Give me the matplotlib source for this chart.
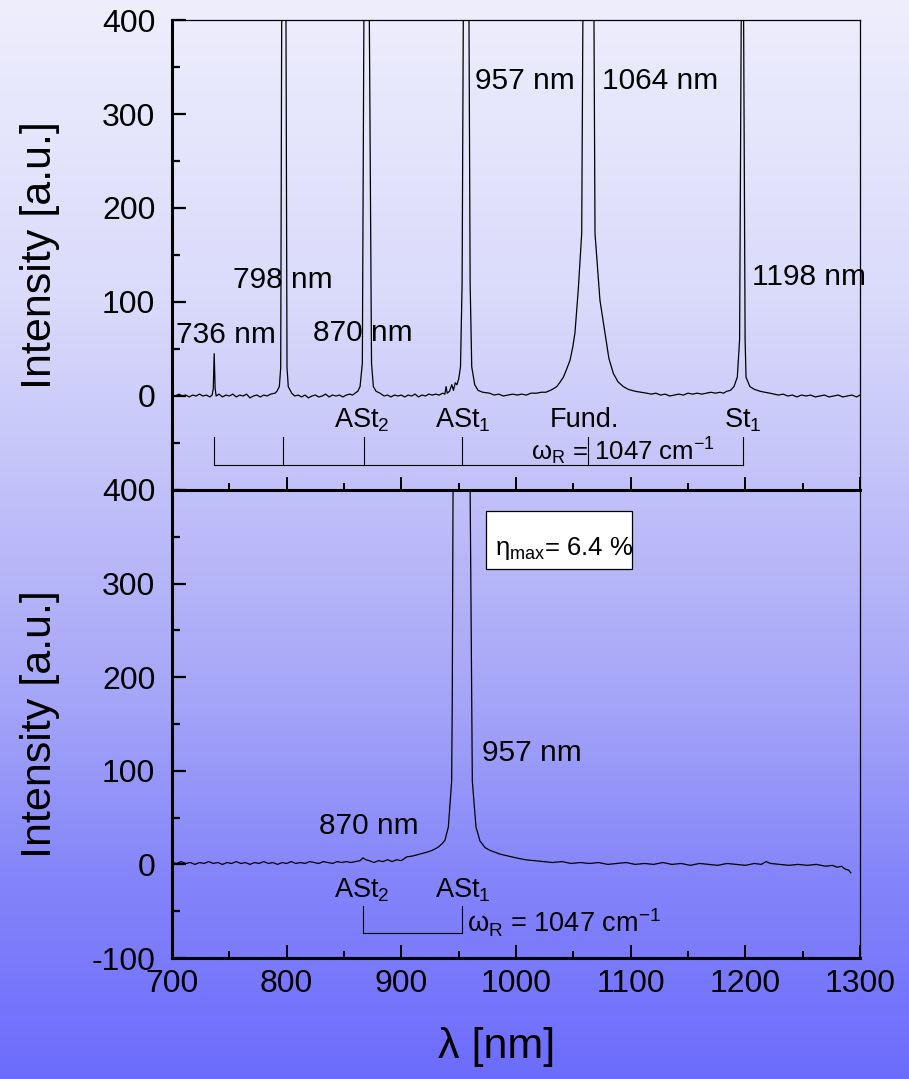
import numpy as np
import matplotlib
matplotlib.use('Agg')
import matplotlib.pyplot as plt
from matplotlib.patches import Rectangle
from matplotlib.ticker import MultipleLocator, FixedLocator

plt.rcParams['font.family'] = ['Liberation Sans', 'DejaVu Sans']
plt.rcParams['mathtext.fontset'] = 'custom'
plt.rcParams['mathtext.rm'] = 'Liberation Sans'
plt.rcParams['mathtext.it'] = 'Liberation Sans:italic'
plt.rcParams['mathtext.bf'] = 'Liberation Sans:bold'
plt.rcParams['mathtext.sf'] = 'Liberation Sans'
plt.rcParams['axes.unicode_minus'] = False

# ---------------- data ----------------
top_wavelength = [
    700, 703, 706, 709, 712, 715, 718, 721, 724, 727,
    730, 733, 735, 736, 736.8, 737.6, 738.5, 741, 744, 747,
    750, 753, 756, 759, 762, 765, 768, 771, 774, 777,
    780, 783, 786, 789.8, 791.5, 793.6, 794.8, 795.7, 797.6, 799.4,
    800.3, 801.4, 804.4, 807, 810, 813, 816, 819, 822, 825,
    828, 831, 834, 837, 840, 843, 846, 849, 852, 855,
    857.5, 859.6, 862, 864, 866, 867.4, 869.8, 872.1, 874, 875.6,
    878, 881.4, 885, 888, 891, 894, 897, 900, 903, 906,
    909, 912, 915, 918, 921, 924, 927, 930, 933, 936,
    938, 939, 940, 942, 944, 945.5, 947, 948.5, 950, 951.6,
    953, 954.1, 956.5, 959, 960, 961.4, 964, 966.9, 971, 977,
    981, 985, 989, 993, 997, 1001, 1005, 1009, 1013, 1018,
    1022, 1026, 1030, 1033, 1035.5, 1038, 1041.3, 1044, 1047.1, 1049.5,
    1051.4, 1054.3, 1057.3, 1058.4, 1063.2, 1068, 1068.9, 1073.2, 1077.6, 1081,
    1084.9, 1089, 1093.6, 1098, 1104, 1109, 1114, 1118, 1122, 1126,
    1130, 1134, 1138, 1142, 1146, 1150, 1154, 1158, 1162, 1166,
    1170, 1174, 1178, 1181, 1183.7, 1187, 1190.1, 1193, 1195, 1196.5,
    1197.5, 1198.5, 1199.8, 1200.6, 1204, 1208, 1213, 1217, 1221.5, 1225,
    1229, 1233, 1237, 1241, 1245, 1249, 1253, 1257, 1261, 1265,
    1269, 1273, 1277, 1281, 1285, 1289, 1293, 1297, 1300,
]
top_intensity = [
    1, 0, 2, 0, 1, -1, 1, 0, 2, 0,
    1, -1, 1, 8, 45, 8, 0, 2, -1, 1,
    0, 2, -1, 1, 0, 2, -2, 0, 1, -1,
    1, 0, 2, 3, 5, 10, 30, 400, 3000, 400,
    30, 10, 3, 0, 1, -1, 1, -2, 0, 1,
    -1, 0, 2, -1, 1, 0, 1, -1, 1, 2,
    1, 3, 5, 10, 35, 400, 3000, 400, 35, 10,
    5, 3, 0, 1, -1, 1, 0, 1, -1, 1,
    0, 2, -1, 1, 0, 2, 1, 2, 1, 3,
    2, 10, 3, 5, 12, 6, 14, 12, 18, 31,
    120, 400, 4000, 400, 120, 31, 12, 6, 4, 3,
    1, 2, 0, 1, 2, 1, 2, 1, 3, 3,
    4, 4, 6, 8, 10, 14, 20, 28, 38, 52,
    67, 113, 173, 400, 5000, 400, 173, 102, 67, 40,
    24, 15, 10, 7, 5, 4, 3, 2, 3, 1,
    2, 0, 1, 2, 1, 3, 2, 3, 2, 3,
    4, 3, 4, 3, 5, 6, 10, 20, 60, 400,
    3000, 400, 60, 20, 10, 7, 5, 4, 3, 2,
    1, 2, 0, 1, -1, 1, 0, 1, -1, 0,
    1, -1, 0, 1, -1, 0, 1, -1, 1,
]

bottom_wavelength = [
    700, 704, 708, 712, 716, 720, 724, 728, 732, 736,
    740, 744, 748, 752, 756, 760, 764, 768, 772, 776,
    780, 784, 788, 792, 796, 800, 804, 808, 812, 816,
    820, 824, 828, 832, 836, 840, 844, 848, 852, 856,
    860, 864, 866.6, 869, 872, 876, 880, 884, 888, 892,
    896, 900, 904.7, 910, 916, 922.1, 927, 932.2, 935.5, 938.1,
    941, 943.9, 944.4, 945.1, 946, 959, 960, 961.4, 961.9, 965.1,
    968.6, 973, 977.3, 986, 993, 1000, 1008, 1016, 1024, 1032,
    1040, 1048, 1056, 1064, 1072, 1080, 1088, 1096, 1104, 1112,
    1120, 1128, 1136, 1144, 1152, 1160, 1168, 1176, 1184, 1192,
    1200, 1208, 1214, 1218, 1222, 1230, 1238, 1246, 1254, 1262,
    1270, 1276, 1280, 1284, 1287, 1290, 1292,
]
bottom_intensity = [
    2, 1, 3, 1, 2, 0, 2, 1, 3, 1,
    2, 0, 2, 1, 3, 1, 2, 0, 2, 1,
    3, 1, 2, 0, 2, 1, 3, 1, 2, 1,
    3, 2, 1, 3, 2, 1, 3, 2, 3, 2,
    3, 4, 7, 5, 4, 2, 4, 3, 5, 3,
    5, 4, 8, 9, 11, 13, 15, 18.5, 22, 26,
    40, 89, 174, 400, 600, 600, 400, 174, 89, 40,
    25, 18, 15, 11, 9, 7, 5, 4, 3, 2,
    3, 1, 2, 1, 2, 0, 1, 2, 0, 1,
    0, 2, 0, 1, -1, 1, 0, -1, 1, 0,
    -1, 1, 0, 3, 1, 0, -1, 0, -1, 0,
    -2, -1, -3, -2, -5, -6, -9,
]

top_peak_labels = ['736 nm', '798 nm', '870 nm', '957 nm', '1064 nm', '1198 nm']
bottom_peak_labels = ['870 nm', '957 nm']
top_line_names = ['ASt$_2$', 'ASt$_1$', 'Fund.', 'St$_1$']
bottom_line_names = ['ASt$_2$', 'ASt$_1$']
raman_shift_label = '\u03c9$_\\mathrm{R}$ = 1047 cm$^{-1}$'
efficiency_label = '\u03b7$_\\mathrm{max}$= 6.4 %'
x_ticks = [700, 800, 900, 1000, 1100, 1200, 1300]
y_ticks_top = [0, 100, 200, 300, 400]
y_ticks_bottom = [-100, 0, 100, 200, 300, 400]

# ---------------- figure ----------------
W, H = 909, 1079
fig = plt.figure(figsize=(W / 100, H / 100), dpi=100)

# background gradient
stops_y = [0, 300, 400, 700, 880, 1079]
stops_rg = [238, 218, 205, 165, 132, 108]
stops_b = [253, 251, 250, 248, 250, 253]
rows = np.arange(H)
rg = np.interp(rows, stops_y, stops_rg) / 255
bb = np.interp(rows, stops_y, stops_b) / 255
grad = np.stack([rg, rg, bb], axis=-1)[:, None, :]
bg = fig.add_axes([0, 0, 1, 1], zorder=-1)
bg.imshow(grad, aspect='auto', extent=[0, 1, 0, 1])
bg.axis('off')

left, right = 172, 860
ax1 = fig.add_axes([left / W, 1 - 490 / H, (right - left) / W, 470 / H])
ax2 = fig.add_axes([left / W, 1 - 958 / H, (right - left) / W, 468 / H])
for ax in (ax1, ax2):
    ax.set_facecolor('none')
    ax.set_xlim(700, 1300)
    ax.set_ylim(-100, 400)
    ax.xaxis.set_major_locator(FixedLocator(x_ticks))
    ax.xaxis.set_minor_locator(MultipleLocator(50))
    ax.yaxis.set_minor_locator(MultipleLocator(50))
    ax.tick_params(axis='both', which='both', direction='in', top=False, right=False,
                   labelsize=23)
    ax.tick_params(axis='y', which='major', length=10, width=1.6, pad=12)
    ax.tick_params(axis='y', which='minor', length=6, width=1.6)
    ax.tick_params(axis='x', which='major', length=9.5, width=1.4, pad=8)
    ax.tick_params(axis='x', which='minor', length=5, width=1.4)
    ax.spines['left'].set_linewidth(2.2)
    ax.spines['bottom'].set_linewidth(2.2)
    ax.spines['right'].set_linewidth(0.9)
    ax.spines['top'].set_linewidth(0.9)

ax1.yaxis.set_major_locator(FixedLocator(y_ticks_top))
ax2.yaxis.set_major_locator(FixedLocator(y_ticks_bottom))
ax1.tick_params(axis='x', labelbottom=False)
ax2.spines['top'].set_visible(False)

ax1.plot(top_wavelength, top_intensity, color='black', lw=0.9)
ax2.plot(bottom_wavelength, bottom_intensity, color='black', lw=0.9)

ax1.set_ylabel('Intensity [a.u.]', fontsize=31)
ax2.set_ylabel('Intensity [a.u.]', fontsize=31)
ax1.yaxis.set_label_coords(-0.163, 0.5)
ax2.yaxis.set_label_coords(-0.163, 0.5)
ax2.set_xlabel('\u03bb [nm]', fontsize=31)
ax2.xaxis.set_label_coords(0.472, -0.148)

# peak labels
top_label_pos = [(703.5, 56), (753.2, 115), (823.2, 58), (964.2, 327), (1074.7, 327), (1205.5, 118)]
for s, (x, y) in zip(top_peak_labels, top_label_pos):
    ax1.text(x, y, s, fontsize=21.5, ha='left', va='baseline')
bottom_label_pos = [(828.5, 33), (970.1, 111)]
for s, (x, y) in zip(bottom_peak_labels, bottom_label_pos):
    ax2.text(x, y, s, fontsize=21.5, ha='left', va='baseline')

# line names
top_name_pos = [841.7, 929, 1029.6, 1181.2]
for s, x in zip(top_line_names, top_name_pos):
    ax1.text(x, -33, s, fontsize=19.5, ha='left', va='baseline')
bottom_name_pos = [841.7, 929]
for s, x in zip(bottom_line_names, bottom_name_pos):
    ax2.text(x, -35, s, fontsize=19.5, ha='left', va='baseline')

# Raman brackets
top_bracket = [736.8, 796.8, 867.4, 952.6, 1062.7, 1198.1]
for x in top_bracket:
    ax1.plot([x, x], [-44, -73.4], color='black', lw=0.8)
ax1.plot([top_bracket[0], top_bracket[-1]], [-73.4, -73.4], color='black', lw=0.8)
ax1.text(1013, -68, raman_shift_label, fontsize=18.5, ha='left', va='baseline')

bottom_bracket = [866.9, 952.6]
for x in bottom_bracket:
    ax2.plot([x, x], [-44.5, -73], color='black', lw=0.8)
ax2.plot([bottom_bracket[0], bottom_bracket[-1]], [-73, -73], color='black', lw=0.8)
ax2.text(957, -72.3, raman_shift_label, fontsize=19.5, ha='left', va='baseline')

# efficiency box
ax2.add_patch(Rectangle((973.8, 316), 1101 - 973.8, 377.8 - 316,
                        facecolor='white', edgecolor='black', lw=0.9, zorder=3))
ax2.text(981.5, 331, efficiency_label, fontsize=18.5, ha='left', va='baseline', zorder=4)

fig.savefig('out.png', dpi=100)
